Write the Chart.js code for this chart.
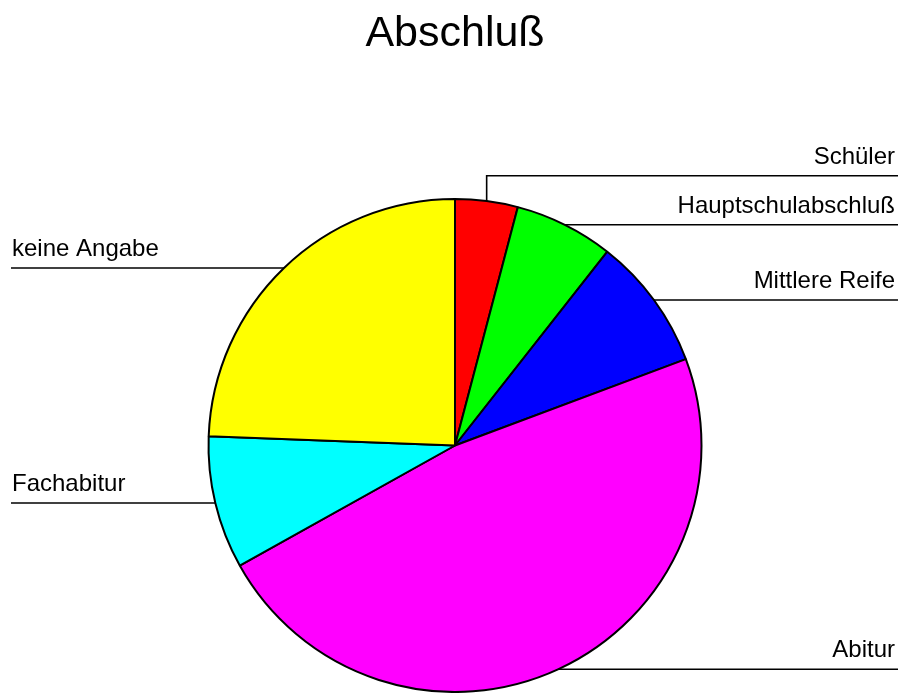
<!DOCTYPE html>
<html>
<head>
<meta charset="utf-8">
<script src="https://cdn.jsdelivr.net/npm/chart.js@4"></script>
<style>
html,body{margin:0;padding:0;background:#fff;}
#wrap{width:900px;height:693px;position:relative;}
</style>
</head>
<body>
<div id="wrap"><canvas id="c" width="900" height="693"></canvas></div>
<script>
const titleText = "Abschluß";
const categories = ["Schüler", "Hauptschulabschluß", "Mittlere Reife", "Abitur", "Fachabitur", "keine Angabe"];
const values = [4.1, 6.5, 8.7, 47.6, 8.7, 24.4];
const sliceColors = ["#ff0000", "#00ff00", "#0000ff", "#ff00ff", "#00ffff", "#ffff00"];

const FONT = '"Liberation Sans", Arial, sans-serif';

const labelPlugin = {
  id: 'leaderLabels',
  afterDraw(chart) {
    const ctx = chart.ctx;
    const meta = chart.getDatasetMeta(0);
    // title
    ctx.save();
    ctx.fillStyle = '#000';
    ctx.font = '43px ' + FONT;
    ctx.textAlign = 'center';
    ctx.textBaseline = 'alphabetic';
    ctx.fillText(titleText, 455, 46);
    ctx.restore();

    const right = [], left = [];
    meta.data.forEach((arc, i) => {
      const p = arc.getProps(['x', 'y', 'startAngle', 'endAngle', 'outerRadius'], true);
      const mid = (p.startAngle + p.endAngle) / 2;
      const ax = p.x + Math.cos(mid) * p.outerRadius;
      const ay = p.y + Math.sin(mid) * p.outerRadius;
      const item = {i, ax, ay, ly: ay};
      if (Math.cos(mid) >= 0) right.push(item); else left.push(item);
    });
    const gap = 49;
    [right, left].forEach(side => {
      side.sort((a, b) => b.ly - a.ly);
      for (let k = 1; k < side.length; k++) {
        if (side[k - 1].ly - side[k].ly < gap) side[k].ly = side[k - 1].ly - gap;
      }
    });
    ctx.save();
    ctx.strokeStyle = '#000';
    ctx.lineWidth = 1.6;
    ctx.fillStyle = '#000';
    ctx.font = '24px ' + FONT;
    right.forEach(it => {
      ctx.beginPath();
      ctx.moveTo(it.ax, it.ay);
      if (Math.abs(it.ly - it.ay) > 0.5) ctx.lineTo(it.ax, it.ly);
      ctx.lineTo(898, it.ly);
      ctx.stroke();
      ctx.textAlign = 'right';
      ctx.fillText(categories[it.i], 895, it.ly - 12);
    });
    left.forEach(it => {
      ctx.beginPath();
      ctx.moveTo(it.ax, it.ay);
      if (Math.abs(it.ly - it.ay) > 0.5) ctx.lineTo(it.ax, it.ly);
      ctx.lineTo(11, it.ly);
      ctx.stroke();
      ctx.textAlign = 'left';
      ctx.fillText(categories[it.i], 12, it.ly - 12);
    });
    ctx.restore();
  }
};

new Chart(document.getElementById('c'), {
  type: 'pie',
  data: {
    labels: categories,
    datasets: [{
      data: values,
      backgroundColor: sliceColors,
      borderColor: '#000',
      borderWidth: 2,
      borderAlign: 'center'
    }]
  },
  options: {
    responsive: false,
    animation: false,
    layout: { padding: { top: 198, bottom: 0, left: 10, right: 0 } },
    plugins: {
      legend: { display: false },
      title: { display: false },
      tooltip: { enabled: false }
    }
  },
  plugins: [labelPlugin]
});
</script>
</body>
</html>
